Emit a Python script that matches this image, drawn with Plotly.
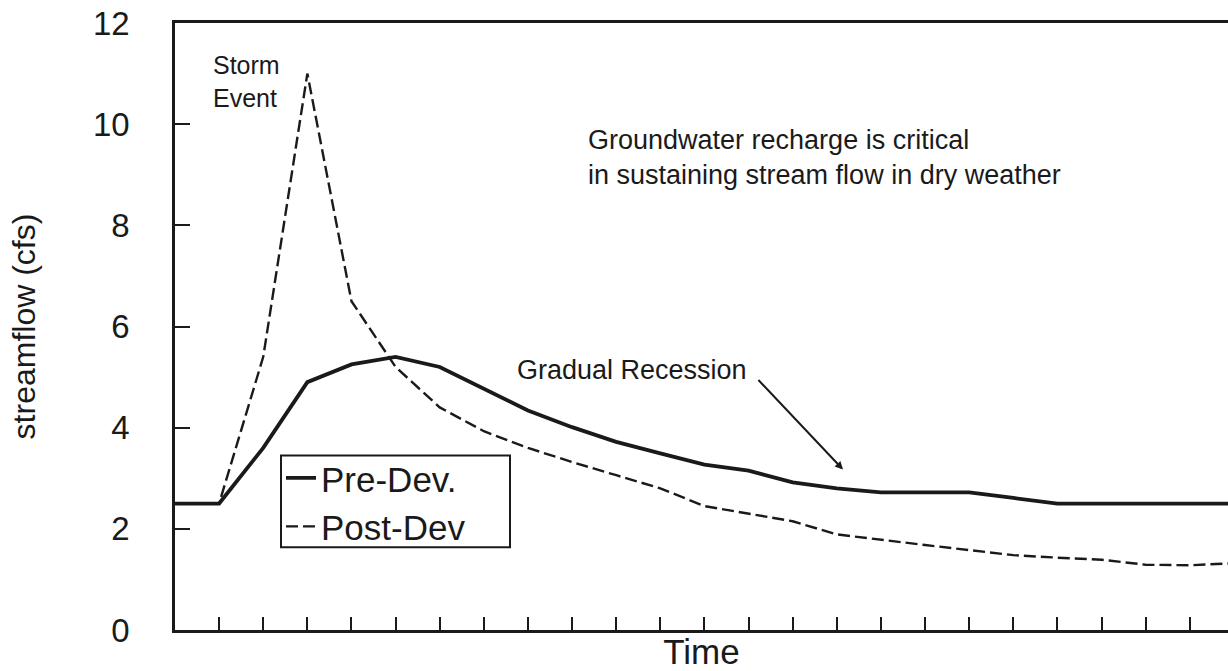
import plotly.graph_objects as go

# ---- data ----
time_index = list(range(0, 25))
pre_dev = [2.5, 2.5, 3.6, 4.9, 5.25, 5.4, 5.2, 4.77, 4.34, 4.01, 3.72, 3.49, 3.27,
           3.15, 2.92, 2.8, 2.72, 2.72, 2.72, 2.61, 2.5, 2.5, 2.5, 2.5, 2.5]
post_dev = [2.5, 2.5, 5.4, 11.0, 6.5, 5.2, 4.4, 3.93, 3.6, 3.32, 3.06, 2.8, 2.45,
            2.3, 2.15, 1.89, 1.78, 1.68, 1.58, 1.48, 1.43, 1.39, 1.29, 1.28, 1.32]
series_names = ["Pre-Dev.", "Post-Dev"]
y_ticks = [0, 2, 4, 6, 8, 10, 12]
x_ticks = list(range(1, 24))

FONT = "Arial, 'Liberation Sans', sans-serif"
INK = "#1a1a1a"

W, H = 1228, 671
L, R, T, B = 175, 0, 23, 39
PW, PH = W - L - R, H - T - B
X_MAX = PW / 44.12


def px(xp):
    """screen x pixel -> paper fraction"""
    return (xp - L) / PW


def py(yp):
    """screen y pixel -> paper fraction"""
    return (H - B - yp) / PH


fig = go.Figure()
fig.add_trace(go.Scatter(x=time_index, y=pre_dev, name=series_names[0], mode="lines",
                         line=dict(color=INK, width=3.8)))
fig.add_trace(go.Scatter(x=time_index, y=post_dev, name=series_names[1], mode="lines",
                         line=dict(color=INK, width=2.4, dash="12px,5px")))

annotations = [
    dict(text="Storm<br>Event", x=px(211), y=py(49), xref="paper", yref="paper",
         xanchor="left", yanchor="top", align="left", showarrow=False,
         font=dict(size=25, color=INK, family=FONT)),
    dict(text="Groundwater recharge is critical<br>in sustaining stream flow in dry weather",
         x=px(586), y=py(123), xref="paper", yref="paper", xanchor="left", yanchor="top",
         align="left", showarrow=False, font=dict(size=27, color=INK, family=FONT)),
    dict(text="Gradual Recession", x=px(515), y=py(371), xref="paper", yref="paper",
         xanchor="left", yanchor="middle", showarrow=False,
         font=dict(size=27, color=INK, family=FONT)),
    dict(text="", x=(843 - 175) / 44.12, y=(632 - 471) / 50.75, xref="x", yref="y",
         showarrow=True, ax=-86, ay=-91, arrowhead=2, arrowsize=0.8, arrowwidth=2,
         arrowcolor=INK),
]

fig.update_layout(
    width=W, height=H,
    margin=dict(l=L, r=R, t=T, b=B, pad=0),
    paper_bgcolor="white", plot_bgcolor="white",
    font=dict(family=FONT, color=INK),
    showlegend=True,
    legend=dict(x=px(281), y=py(450), xanchor="left", yanchor="top",
                bgcolor="rgba(0,0,0,0)", borderwidth=0,
                font=dict(size=35, color=INK, family=FONT), tracegroupgap=0),
    annotations=annotations,
    shapes=[dict(type="rect", xref="paper", yref="paper",
                 x0=px(281), x1=px(510), y0=py(549), y1=py(457),
                 line=dict(color=INK, width=2), fillcolor="white", layer="above")],
    xaxis=dict(range=[0, X_MAX], tickvals=x_ticks, showticklabels=False,
               ticks="inside", ticklen=13, tickwidth=2, tickcolor=INK,
               showline=True, linecolor=INK, linewidth=2.5, mirror=True,
               showgrid=False, zeroline=False,
               title=dict(text="Time", standoff=16, font=dict(size=35, color=INK, family=FONT))),
    yaxis=dict(range=[0, 12], tickvals=y_ticks, ticks="inside", ticklen=15, tickwidth=2,
               tickcolor=INK, showline=True, linecolor=INK, linewidth=2.5,
               showgrid=False, zeroline=False, ticklabelstandoff=36,
               tickfont=dict(size=33, color=INK, family=FONT),
               title=dict(text="streamflow (cfs)", standoff=48,
                          font=dict(size=32, color=INK, family=FONT))),
)

fig.write_html("out.html", config={"displayModeBar": False},
               post_script="document.body.style.margin='0px';")
